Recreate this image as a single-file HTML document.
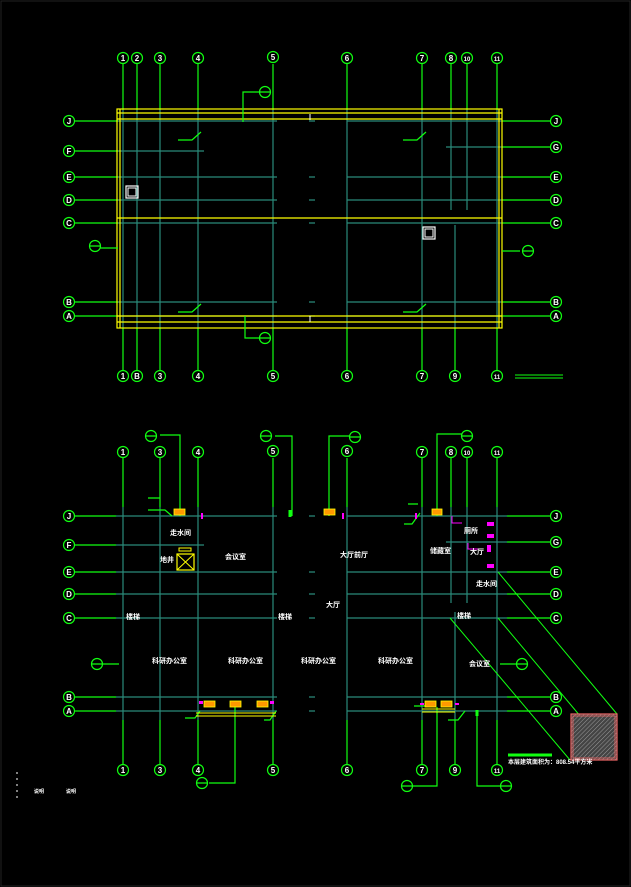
<!DOCTYPE html>
<html><head><meta charset="utf-8"><style>
html,body{margin:0;padding:0;background:#000;width:631px;height:887px;overflow:hidden}
svg{display:block}
text{font-family:"Liberation Sans","Noto Sans CJK SC",sans-serif;fill:#fff;font-weight:bold}
.g{stroke:#1f1;stroke-width:1.2;fill:none}
.t{stroke:#2a8a7a;stroke-width:1.2;fill:none}
.y{stroke:#ff0;stroke-width:1.2;fill:none}
.b{stroke:#1f1;stroke-width:1.2;fill:#000}
.bt{font-size:8px;text-anchor:middle}
.c{font-size:7px}
</style></head><body>
<svg width="631" height="887" viewBox="0 0 631 887" xmlns="http://www.w3.org/2000/svg">
<rect x="0" y="0" width="631" height="887" fill="#000"/>
<rect x="1" y="1" width="629" height="885" fill="none" stroke="#222" stroke-width="1"/>

<!-- ========== TOP PLAN ========== -->
<!-- vertical column lines (green outside, teal inside) -->
<g class="g">
<path d="M123 64V110M137 64V110M160 64V110M198 64V110M273 64V110M347 64V110M422 64V110M451 64V110M467 64V110M497 64V110"/>
<path d="M123 328V370M137 328V370M160 328V370M198 328V370M273 328V370M347 328V370M422 328V370M455 328V370M497 328V370"/>
<path d="M75 121H118M75 151H118M75 177H118M75 200H118M75 223H118M75 302H118M75 316H118"/>
<path d="M502 121H550M502 147H550M502 177H550M502 200H550M502 223H550M502 302H550M502 316H550"/>
</g>
<g class="t">
<path d="M123 110V328M137 110V328M160 110V328M198 110V328M273 110V328M347 110V328M422 110V328M451 110V210M467 110V210M455 225V328M497 110V328"/>
<path d="M118 121H277M118 151H204M118 177H277M118 200H277M118 223H277M118 302H277M118 316H277"/>
<path d="M309 121H315M309 177H315M309 200H315M309 223H315M309 302H315M309 316H315"/>
<path d="M347 121H502M446 147H502M347 177H502M347 200H502M347 223H502M347 302H502M347 316H502"/>
</g>
<!-- yellow outline -->
<g class="y">
<rect x="117" y="109" width="385" height="219"/>
<path d="M120 109V328M499 109V328M117 113H502M117 119H502M117 218H502M117 322H502M117 316H502"/>
</g>
<path d="M310 114V120M310 316V322" stroke="#fff" stroke-width="1"/>
<!-- squares -->
<rect x="126" y="186" width="12" height="12" fill="none" stroke="#fff" stroke-width="1.2"/>
<rect x="128" y="188" width="8" height="8" fill="none" stroke="#fff" stroke-width="1"/>
<rect x="423" y="227" width="12" height="12" fill="none" stroke="#fff" stroke-width="1.2"/>
<rect x="425" y="229" width="8" height="8" fill="none" stroke="#fff" stroke-width="1"/>
<!-- section leaders -->
<g class="g">
<path d="M178 140H192L201 132M178 312H192L201 304M403 140H417L426 132M403 312H417L426 304"/>
<path d="M243 122V92H260M245 316V338H260M118 248H100M502 251H520"/>
</g>
<g class="b">
<circle cx="265" cy="92" r="5.5"/><circle cx="265" cy="338" r="5.5"/>
<circle cx="95" cy="246" r="5.5"/><circle cx="528" cy="251" r="5.5"/>
</g>
<path class="g" d="M259.5 92H270.5M259.5 338H270.5M89.5 246H100.5M522.5 251H533.5"/>
<path d="M515 375H563M515 378H563" stroke="#1f1" stroke-width="1"/>

<!-- top bubbles -->
<g class="b">
<circle cx="123" cy="58" r="5.5"/><circle cx="137" cy="58" r="5.5"/><circle cx="160" cy="58" r="5.5"/><circle cx="198" cy="58" r="5.5"/><circle cx="273" cy="57" r="5.5"/><circle cx="347" cy="58" r="5.5"/><circle cx="422" cy="58" r="5.5"/><circle cx="451" cy="58" r="5.5"/><circle cx="467" cy="58" r="5.5"/><circle cx="497" cy="58" r="5.5"/>
<circle cx="123" cy="376" r="5.5"/><circle cx="137" cy="376" r="5.5"/><circle cx="160" cy="376" r="5.5"/><circle cx="198" cy="376" r="5.5"/><circle cx="273" cy="376" r="5.5"/><circle cx="347" cy="376" r="5.5"/><circle cx="422" cy="376" r="5.5"/><circle cx="455" cy="376" r="5.5"/><circle cx="497" cy="376" r="5.5"/>
<circle cx="69" cy="121" r="5.5"/><circle cx="69" cy="151" r="5.5"/><circle cx="69" cy="177" r="5.5"/><circle cx="69" cy="200" r="5.5"/><circle cx="69" cy="223" r="5.5"/><circle cx="69" cy="302" r="5.5"/><circle cx="69" cy="316" r="5.5"/>
<circle cx="556" cy="121" r="5.5"/><circle cx="556" cy="147" r="5.5"/><circle cx="556" cy="177" r="5.5"/><circle cx="556" cy="200" r="5.5"/><circle cx="556" cy="223" r="5.5"/><circle cx="556" cy="302" r="5.5"/><circle cx="556" cy="316" r="5.5"/>
</g>
<g class="bt">
<text x="123" y="61">1</text><text x="137" y="61">2</text><text x="160" y="61">3</text><text x="198" y="61">4</text><text x="273" y="60">5</text><text x="347" y="61">6</text><text x="422" y="61">7</text><text x="451" y="61">8</text><text x="467" y="61" style="font-size:6px">10</text><text x="497" y="61" style="font-size:6px">11</text>
<text x="123" y="379">1</text><text x="137" y="379">B</text><text x="160" y="379">3</text><text x="198" y="379">4</text><text x="273" y="379">5</text><text x="347" y="379">6</text><text x="422" y="379">7</text><text x="455" y="379">9</text><text x="497" y="379" style="font-size:6px">11</text>
<text x="69" y="124">J</text><text x="69" y="154">F</text><text x="69" y="180">E</text><text x="69" y="203">D</text><text x="69" y="226">C</text><text x="69" y="305">B</text><text x="69" y="319">A</text>
<text x="556" y="124">J</text><text x="556" y="150">G</text><text x="556" y="180">E</text><text x="556" y="203">D</text><text x="556" y="226">C</text><text x="556" y="305">B</text><text x="556" y="319">A</text>
</g>

<!-- ========== BOTTOM PLAN ========== -->
<g class="g">
<path d="M123 458V507M160 458V507M198 458V507M273 458V507M347 458V507M422 458V507M451 458V507M467 458V507M497 458V507"/>
<path d="M123 720V764M160 720V764M198 720V764M273 720V764M347 720V764M422 720V764M455 720V764M497 720V764"/>
<path d="M75 516H116M75 545H116M75 572H116M75 594H116M75 618H116M75 697H116M75 711H116"/>
<path d="M507 516H550M507 542H550M507 572H550M507 594H550M507 618H550M507 697H550M507 711H550"/>
</g>
<g class="t">
<path d="M123 507V720M160 507V720M198 507V720M273 507V720M347 507V720M422 507V720M451 507V603M467 507V603M455 612V720M497 507V720"/>
<path d="M116 516H277M116 545H204M116 572H277M116 594H277M116 618H277M116 697H277M116 711H277"/>
<path d="M309 516H315M309 572H315M309 594H315M309 618H315M309 697H315M309 711H315"/>
<path d="M347 516H507M446 542H507M347 572H507M347 594H507M347 618H507M347 697H507M347 711H507"/>
</g>
<!-- diagonals -->
<g stroke="#1f1" stroke-width="1" fill="none">
<path d="M450 618L570 760M498 618L617 760M498 572L617 714"/>
</g>
<!-- hatched box -->
<defs><pattern id="h" width="3" height="3" patternUnits="userSpaceOnUse" patternTransform="rotate(45)"><rect width="3" height="3" fill="#444"/><path d="M0 0V3" stroke="#999" stroke-width="1"/></pattern></defs>
<rect x="571" y="714" width="46" height="46" fill="url(#h)" stroke="#e66" stroke-width="1.2"/>
<rect x="573" y="716" width="42" height="42" fill="none" stroke="#e66" stroke-width="0.8"/>
<!-- leaders -->
<g class="g">
<path d="M180 516V435H160M292 516V436H275M329 516V436H350M437 516V434H463"/>
<path d="M235 707V783H209M437 707V786H412M477 711V786H500M119 664H100M500 664H517"/>
<path d="M148 498H160M148 510H165L172 516M408 504H418M404 524H412L420 513M185 718H195L200 711M264 720H270L276 711M414 706H425M448 720H458L465 711"/>
</g>
<path d="M290 510V517M477 710V716" stroke="#1f1" stroke-width="3"/>
<g class="b">
<circle cx="151" cy="436" r="5.5"/><circle cx="266" cy="436" r="5.5"/><circle cx="355" cy="437" r="5.5"/><circle cx="467" cy="436" r="5.5"/>
<circle cx="202" cy="783" r="5.5"/><circle cx="407" cy="786" r="5.5"/><circle cx="506" cy="786" r="5.5"/>
<circle cx="97" cy="664" r="5.5"/><circle cx="522" cy="664" r="5.5"/>
</g>
<path class="g" d="M145.5 436H156.5M260.5 436H271.5M349.5 437H360.5M461.5 436H472.5M196.5 783H207.5M401.5 786H412.5M500.5 786H511.5M91.5 664H102.5M516.5 664H527.5"/>
<!-- yellow/orange fittings -->
<g fill="#f90" stroke="#ff0" stroke-width="0.8">
<rect x="174" y="509" width="11" height="6"/><rect x="324" y="509" width="11" height="6"/><rect x="432" y="509" width="10" height="6"/>
<rect x="204" y="701" width="11" height="6"/><rect x="230" y="701" width="11" height="6"/><rect x="257" y="701" width="11" height="6"/>
<rect x="425" y="701" width="11" height="6"/><rect x="441" y="701" width="11" height="6"/>
</g>
<path d="M196 713H276M196 716H276M422 709H455M422 712H455" stroke="#ff0" stroke-width="1"/>
<rect x="177" y="554" width="17" height="16" fill="none" stroke="#ff0" stroke-width="1.2"/>
<path d="M177 554L194 570M194 554L177 570M179 548H191" stroke="#ff0" stroke-width="1"/>
<rect x="179" y="548" width="12" height="3" fill="none" stroke="#ff0" stroke-width="1"/>
<!-- magenta -->
<g fill="#f0f">
<rect x="201" y="513" width="2" height="6"/><rect x="342" y="513" width="2" height="6"/><rect x="415" y="513" width="2" height="6"/>
<rect x="487" y="522" width="7" height="4"/><rect x="487" y="534" width="7" height="4"/><rect x="487" y="545" width="4" height="7"/><rect x="487" y="564" width="7" height="4"/>
<rect x="199" y="701" width="4" height="3"/><rect x="270" y="701" width="4" height="3"/><rect x="420" y="703" width="4" height="2"/><rect x="455" y="703" width="4" height="2"/>
</g>
<path d="M452 516V523H462M468 543V549H480" stroke="#f0f" stroke-width="1" fill="none"/>
<!-- room labels -->
<g class="c">
<text x="170" y="535">走水间</text><text x="160" y="562">地井</text><text x="225" y="559">会议室</text><text x="340" y="557">大厅前厅</text>
<text x="430" y="553">储藏室</text><text x="464" y="533">厕所</text><text x="470" y="554">大厅</text><text x="476" y="586">走水间</text>
<text x="126" y="619">楼梯</text><text x="278" y="619">楼梯</text><text x="326" y="607">大厅</text><text x="457" y="618">楼梯</text>
<text x="152" y="663">科研办公室</text><text x="228" y="663">科研办公室</text><text x="301" y="663">科研办公室</text><text x="378" y="663">科研办公室</text><text x="469" y="666">会议室</text>
<text x="508" y="764" style="font-size:6px">本层建筑面积为：808.54平方米</text>
<text x="34" y="793" style="font-size:5px">说明</text><text x="66" y="793" style="font-size:5px">说明</text>
</g>
<path d="M508 755H552" stroke="#1f1" stroke-width="3"/>
<path d="M17 772V798" stroke="#fff" stroke-width="1" stroke-dasharray="2 4"/>

<!-- bottom bubbles -->
<g class="b">
<circle cx="123" cy="452" r="5.5"/><circle cx="160" cy="452" r="5.5"/><circle cx="198" cy="452" r="5.5"/><circle cx="273" cy="451" r="5.5"/><circle cx="347" cy="451" r="5.5"/><circle cx="422" cy="452" r="5.5"/><circle cx="451" cy="452" r="5.5"/><circle cx="467" cy="452" r="5.5"/><circle cx="497" cy="452" r="5.5"/>
<circle cx="123" cy="770" r="5.5"/><circle cx="160" cy="770" r="5.5"/><circle cx="198" cy="770" r="5.5"/><circle cx="273" cy="770" r="5.5"/><circle cx="347" cy="770" r="5.5"/><circle cx="422" cy="770" r="5.5"/><circle cx="455" cy="770" r="5.5"/><circle cx="497" cy="770" r="5.5"/>
<circle cx="69" cy="516" r="5.5"/><circle cx="69" cy="545" r="5.5"/><circle cx="69" cy="572" r="5.5"/><circle cx="69" cy="594" r="5.5"/><circle cx="69" cy="618" r="5.5"/><circle cx="69" cy="697" r="5.5"/><circle cx="69" cy="711" r="5.5"/>
<circle cx="556" cy="516" r="5.5"/><circle cx="556" cy="542" r="5.5"/><circle cx="556" cy="572" r="5.5"/><circle cx="556" cy="594" r="5.5"/><circle cx="556" cy="618" r="5.5"/><circle cx="556" cy="697" r="5.5"/><circle cx="556" cy="711" r="5.5"/>
</g>
<g class="bt">
<text x="123" y="455">1</text><text x="160" y="455">3</text><text x="198" y="455">4</text><text x="273" y="454">5</text><text x="347" y="454">6</text><text x="422" y="455">7</text><text x="451" y="455">8</text><text x="467" y="455" style="font-size:6px">10</text><text x="497" y="455" style="font-size:6px">11</text>
<text x="123" y="773">1</text><text x="160" y="773">3</text><text x="198" y="773">4</text><text x="273" y="773">5</text><text x="347" y="773">6</text><text x="422" y="773">7</text><text x="455" y="773">9</text><text x="497" y="773" style="font-size:6px">11</text>
<text x="69" y="519">J</text><text x="69" y="548">F</text><text x="69" y="575">E</text><text x="69" y="597">D</text><text x="69" y="621">C</text><text x="69" y="700">B</text><text x="69" y="714">A</text>
<text x="556" y="519">J</text><text x="556" y="545">G</text><text x="556" y="575">E</text><text x="556" y="597">D</text><text x="556" y="621">C</text><text x="556" y="700">B</text><text x="556" y="714">A</text>
</g>
</svg>
</body></html>
